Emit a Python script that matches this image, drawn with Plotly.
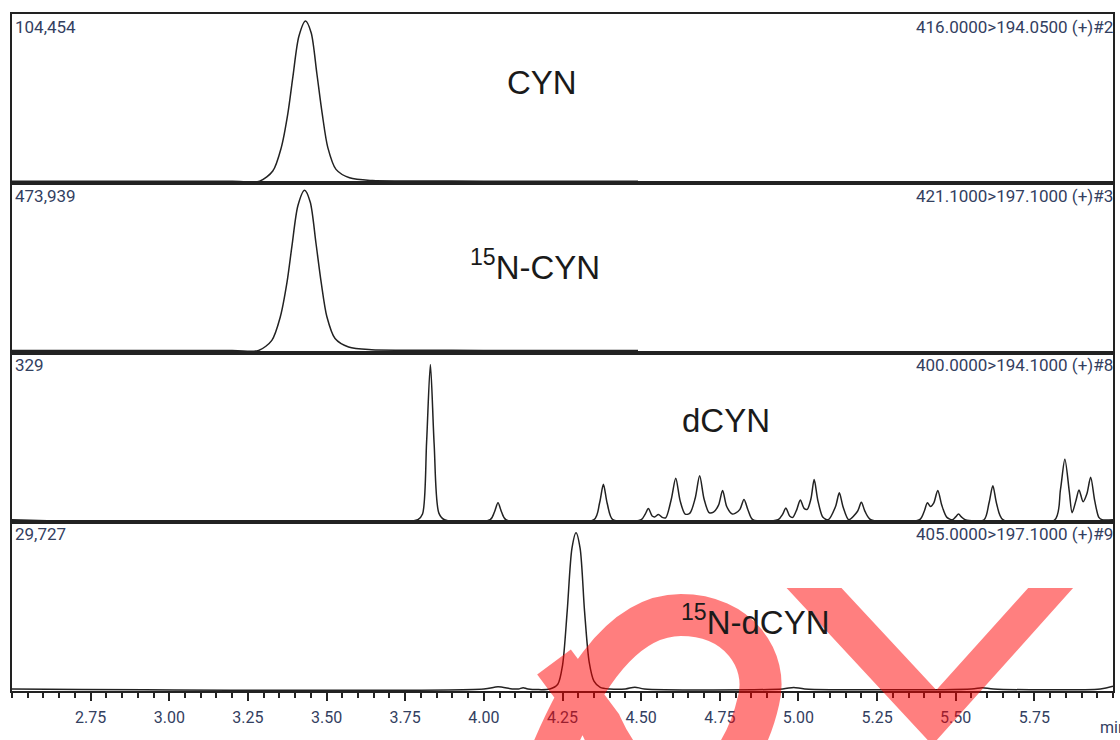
import plotly.graph_objects as go
from plotly.subplots import make_subplots

# ---------------- data ----------------
X_RANGE = [2.5, 6.0]
TICK_VALS = [2.75, 3.00, 3.25, 3.50, 3.75, 4.00, 4.25, 4.50, 4.75, 5.00, 5.25, 5.50, 5.75]
TICK_TEXT = ["2.75", "3.00", "3.25", "3.50", "3.75", "4.00", "4.25", "4.50", "4.75",
             "5.00", "5.25", "5.50", "5.75"]

PANEL_NAMES = ["CYN", "<sup>15</sup>N-CYN", "dCYN", "<sup>15</sup>N-dCYN"]
PANEL_MAX = ["104,454", "473,939", "329", "29,727"]
PANEL_MRM = ["416.0000>194.0500 (+)#2", "421.1000>197.1000 (+)#3",
             "400.0000>194.1000 (+)#8", "405.0000>197.1000 (+)#9"]

CYN_T = [2.50, 3.20, 3.287, 3.329, 3.356, 3.377, 3.393, 3.412, 3.433, 3.451, 3.469,
         3.486, 3.504, 3.530, 3.573, 3.646, 3.75, 4.00, 4.49]
CYN_I = [0, 0, 0, 6600, 21900, 44200, 68200, 94500, 104454, 96800, 70400,
         44200, 21900, 7700, 2200, 400, 150, 0, 0]

N15CYN_T = [2.50, 3.20, 3.284, 3.326, 3.353, 3.374, 3.390, 3.409, 3.430, 3.448, 3.466,
            3.483, 3.501, 3.527, 3.570, 3.643, 3.75, 4.00, 4.49]
N15CYN_I = [0, 0, 0, 29900, 99500, 200500, 309500, 428900, 473939, 439300, 319400,
            200500, 99500, 35100, 9900, 1900, 700, 0, 0]

DCYN_T = [2.50, 3.79, 3.805, 3.818, 3.830, 3.842, 3.857, 3.875,
          4.02, 4.034, 4.045, 4.056, 4.07,
          4.35, 4.368, 4.380, 4.392, 4.41,
          4.50, 4.513, 4.523, 4.535, 4.543, 4.555, 4.567, 4.578, 4.596, 4.610, 4.624,
          4.640, 4.655, 4.672, 4.686, 4.700, 4.716, 4.730, 4.746, 4.759, 4.772, 4.790,
          4.800, 4.814, 4.827, 4.840, 4.855,
          4.935, 4.950, 4.960, 4.972, 4.982, 4.995, 5.006, 5.018, 5.028, 5.040, 5.050,
          5.062, 5.078, 5.095, 5.118, 5.130, 5.142, 5.160, 5.188, 5.200, 5.212, 5.230,
          5.385, 5.400, 5.410, 5.420, 5.430, 5.443, 5.456, 5.472, 5.490, 5.500, 5.509,
          5.518, 5.530, 5.590, 5.606, 5.618, 5.630, 5.650,
          5.815, 5.833, 5.847, 5.861, 5.870, 5.882, 5.892, 5.905, 5.917, 5.929, 5.942,
          5.955, 5.965, 6.00]
DCYN_I = [0, 0, 12, 165, 329, 160, 14, 0,
          0, 17, 36, 17, 0,
          0, 36, 75, 35, 0,
          0, 12, 24, 8, 6, 11, 5, 4, 44, 88, 40,
          12, 14, 46, 93, 44, 15, 16, 31, 62, 28, 12,
          14, 22, 43, 20, 0,
          0, 12, 25, 8, 5, 22, 42, 24, 22, 45, 85,
          40, 5, 0, 28, 57, 27, 0, 18, 37, 17, 0,
          0, 18, 36, 28, 35, 62, 30, 5, 0, 6, 12,
          6, 0, 0, 36, 72, 34, 0,
          0, 64, 128, 60, 15, 40, 63, 38, 55, 90, 40,
          5, 0, 0]

N15DCYN_T = [2.50, 4.00, 4.045, 4.09, 4.11, 4.125, 4.14, 4.21, 4.235, 4.250, 4.265, 4.280,
             4.293, 4.306, 4.320, 4.335, 4.350, 4.370, 4.40, 4.45, 4.48, 4.51, 4.95,
             4.985, 5.02, 5.55, 5.585, 5.62, 5.96, 6.00]
N15DCYN_I = [0, 0, 400, 0, 0, 250, 0, 0, 890, 4460, 14860, 26750,
             29727, 26750, 14860, 5050, 1490, 300, 0, 0, 350, 0, 0,
             300, 0, 0, 250, 0, 0, 500]

PANEL_T = [CYN_T, N15CYN_T, DCYN_T, N15DCYN_T]
PANEL_I = [CYN_I, N15CYN_I, DCYN_I, N15DCYN_I]
PANEL_TOP = [1.044, 1.044, 1.077, 1.07]

# ---------------- layout helpers ----------------
W, H = 1120, 740
ML, MR, MT, MB = 12, 5, 14, 49
PW = W - ML - MR
PH = H - MT - MB


def px(x):
    return (x - ML) / PW


def py(y):
    return (H - MB - y) / PH


LINE = "#222222"
NARROW = "Roboto, Liberation Sans Narrow, Arial Narrow, sans-serif"
LABEL_COLOR = "#33405f"

fig = make_subplots(rows=4, cols=1, shared_xaxes=True, vertical_spacing=0)

for i in range(4):
    fig.add_trace(go.Scatter(x=PANEL_T[i], y=PANEL_I[i], mode="lines",
                             line=dict(color=LINE, width=1.5, shape="spline", smoothing=0.8),
                             hoverinfo="skip", showlegend=False), row=i + 1, col=1)
    ymax = max(PANEL_I[i])
    fig.update_yaxes(range=[-0.013 * ymax, PANEL_TOP[i] * ymax], showline=True, mirror=True,
                     linecolor=LINE, linewidth=2, showgrid=False, zeroline=False,
                     ticks="", showticklabels=False, row=i + 1, col=1)
    fig.update_xaxes(range=X_RANGE, showline=True, mirror=True, linecolor=LINE, linewidth=2,
                     showgrid=False, zeroline=False, row=i + 1, col=1)
    if i < 3:
        fig.update_xaxes(ticks="", showticklabels=False, row=i + 1, col=1)

fig.update_xaxes(row=4, col=1, ticks="outside", tickmode="array", tickvals=TICK_VALS,
                 ticktext=TICK_TEXT, ticklen=8, tickwidth=1.5, tickcolor=LINE,
                 showticklabels=True, ticklabelstandoff=3,
                 tickfont=dict(family=NARROW, size=16, color=LABEL_COLOR),
                 minor=dict(ticks="outside", tickmode="linear", tick0=2.5, dtick=0.05,
                            ticklen=5, tickwidth=1.5, tickcolor=LINE))

annotations = []
panel_tops = [14, 183, 352, 521]
name_pos = [(543, 82), (536, 265), (727, 420), (757, 620)]
for i in range(4):
    top = panel_tops[i]
    annotations.append(dict(xref="paper", yref="paper", x=px(13), y=py(top + 1),
                            xanchor="left", yanchor="top", showarrow=False,
                            text=PANEL_MAX[i],
                            font=dict(family=NARROW, size=17, color=LABEL_COLOR)))
    annotations.append(dict(xref="paper", yref="paper", x=px(916), y=py(top + 1),
                            xanchor="left", yanchor="top", showarrow=False,
                            text=PANEL_MRM[i],
                            font=dict(family=NARROW, size=17, color=LABEL_COLOR)))
    annotations.append(dict(xref="paper", yref="paper", x=px(name_pos[i][0]),
                            y=py(name_pos[i][1]), xanchor="center", yanchor="middle",
                            showarrow=False, text=PANEL_NAMES[i],
                            font=dict(family="Liberation Sans, Arial, sans-serif", size=33,
                                      color="#1a1a1a")))
annotations.append(dict(xref="paper", yref="paper", x=px(1100), y=py(727),
                        xanchor="left", yanchor="middle", showarrow=False, text="min",
                        font=dict(family=NARROW, size=16, color=LABEL_COLOR)))


def path_px(cmds):
    out = []
    for c in cmds:
        letter, pts = c[0], c[1:]
        coords = " ".join(f"{px(a):.5f},{py(b):.5f}" for a, b in pts)
        out.append(f"{letter} {coords}")
    return " ".join(out)


v_path = path_px([("M", (788, 588)), ("L", (843, 588)), ("L", (938, 690)),
                  ("L", (1030, 588)), ("L", (1075, 588)), ("L", (934, 745))]) + " Z"
loop_path = path_px([("M", (540, 785)), ("C", (575, 690), (620, 615), (682, 615)),
                     ("C", (740, 615), (770, 660), (760, 700)),
                     ("C", (750, 745), (720, 795), (680, 795)),
                     ("C", (650, 795), (620, 765), (602, 725)),
                     ("L", (555, 662))])

shapes = [
    dict(type="path", xref="paper", yref="paper", path=v_path, fillcolor="#ff0000",
         line=dict(width=0), opacity=0.5, layer="above"),
    dict(type="path", xref="paper", yref="paper", path=loop_path,
         fillcolor="rgba(0,0,0,0)", line=dict(color="#ff0000", width=42),
         opacity=0.5, layer="above"),
]

fig.update_layout(width=W, height=H, margin=dict(l=ML, r=MR, t=MT, b=MB),
                  paper_bgcolor="white", plot_bgcolor="white",
                  annotations=annotations, shapes=shapes, showlegend=False)

fig.write_html("out.html", config={"displayModeBar": False},
               post_script="document.body.style.margin='0px';"
                           "document.body.style.overflow='hidden';")
